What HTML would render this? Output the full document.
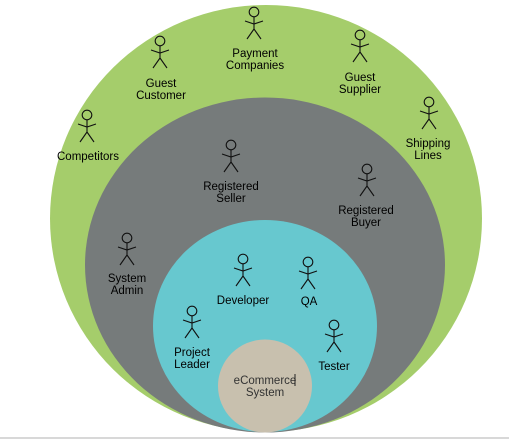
<!DOCTYPE html>
<html><head><style>
html,body{margin:0;padding:0;background:#fff;width:509px;height:441px;overflow:hidden}
text{font-family:"Liberation Sans",Arial,sans-serif;font-size:11.5px;fill:#000;text-anchor:middle}
</style></head><body>
<svg width="509" height="441" viewBox="0 0 509 441" xmlns="http://www.w3.org/2000/svg">
<defs>
<g id="a" fill="none" stroke="#111" stroke-width="1.1">
<circle cx="0" cy="0" r="4.8"/>
<path d="M0 4.8V17M-9 9L0 12L9 9M-7 27L0 17L7 27"/>
</g>
</defs>
<line x1="0" y1="438" x2="509" y2="438" stroke="#ccc" stroke-width="1.5"/>
<ellipse cx="266" cy="218.5" rx="216" ry="213.5" fill="#a5cd6b"/>
<ellipse cx="265" cy="265" rx="180" ry="167.5" fill="#767b7b"/>
<ellipse cx="265" cy="326" rx="112" ry="106" fill="#67c8cf"/>
<ellipse cx="265" cy="386" rx="47" ry="46.5" fill="#c8c0ae"/>

<use href="#a" x="254" y="12"/><text x="255" y="57">Payment</text><text x="255" y="69">Companies</text>
<use href="#a" x="160" y="41"/><text x="161" y="87">Guest</text><text x="161" y="99">Customer</text>
<use href="#a" x="87" y="115"/><text x="88" y="160">Competitors</text>
<use href="#a" x="360" y="35"/><text x="360" y="81">Guest</text><text x="360" y="93">Supplier</text>
<use href="#a" x="429" y="102"/><text x="428" y="147">Shipping</text><text x="428" y="159">Lines</text>
<use href="#a" x="231" y="145"/><text x="231" y="190">Registered</text><text x="231" y="202">Seller</text>
<use href="#a" x="367" y="169"/><text x="366" y="214">Registered</text><text x="366" y="226">Buyer</text>
<use href="#a" x="127" y="238"/><text x="127" y="282">System</text><text x="127" y="294">Admin</text>
<use href="#a" x="243" y="259"/><text x="243" y="304">Developer</text>
<use href="#a" x="308" y="262"/><text x="309" y="305">QA</text>
<use href="#a" x="192" y="311"/><text x="192" y="356">Project</text><text x="192" y="368">Leader</text>
<use href="#a" x="334" y="325"/><text x="334" y="370">Tester</text>
<text x="265" y="384" style="fill:#333">eCommerce</text><text x="265" y="396" style="fill:#333">System</text>
<line x1="295" y1="374" x2="295" y2="386" stroke="#222" stroke-width="1"/>
</svg>
</body></html>
